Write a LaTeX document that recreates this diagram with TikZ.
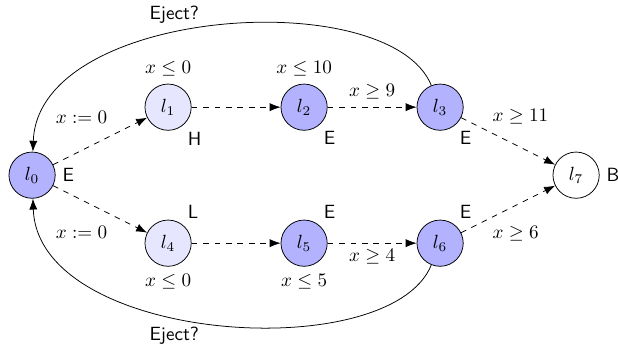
\documentclass[tikz,border=0pt]{standalone}
\usepackage{amsmath,amssymb}
\usetikzlibrary{arrows.meta}
\definecolor{LocUrgent}{RGB}{178,178,255}
\definecolor{LocPale}{RGB}{230,230,255}
\definecolor{LocInk}{gray}{0.0}
\tikzset{
    ta/diagram/.style={
        font=\normalsize,
        draw=LocInk,
        text=LocInk,
        line width=0.4pt,
        >={Latex[length=2mm, width=1.5mm]},
        every label/.style={font=\sffamily, inner sep=1pt}
    },
    ta/loc/.style={circle, draw=LocInk, minimum size=0.85cm, inner sep=0pt},
    ta/urgent/.style={ta/loc, fill=LocUrgent},
    ta/pale/.style={ta/loc, fill=LocPale},
    ta/final/.style={ta/loc, fill=white},
    ta/trans/.style={draw=LocInk, dashed, ->},
    ta/eject/.style={draw=LocInk, ->},
    ta/guard/.style={inner sep=3pt},
    ta/tag/.style={label distance=2.5pt}
}

\begin{document}
\begin{tikzpicture}[ta/diagram]
    \useasboundingbox (-0.59,-3.16) rectangle (10.77,3.22);
    % locations
    \node[ta/urgent, label={[label distance=2.5pt]right:E}] (l0) at (0,0) {$l_0$};
    \node[ta/pale, label={[ta/tag]above:$x\leq 0$}, label={[ta/tag]-52:H}] (l1) at (2.5,1.25) {$l_1$};
    \node[ta/urgent, label={[ta/tag]above:$x\leq 10$}, label={[ta/tag]-52:E}] (l2) at (5,1.25) {$l_2$};
    \node[ta/urgent, label={[ta/tag]-52:E}] (l3) at (7.5,1.25) {$l_3$};
    \node[ta/pale, label={[ta/tag]below:$x\leq 0$}, label={[ta/tag]52:L}] (l4) at (2.5,-1.25) {$l_4$};
    \node[ta/urgent, label={[ta/tag]below:$x\leq 5$}, label={[ta/tag]52:E}] (l5) at (5,-1.25) {$l_5$};
    \node[ta/urgent, label={[ta/tag]52:E}] (l6) at (7.5,-1.25) {$l_6$};
    \node[ta/final, label={[label distance=2.5pt]right:B}] (l7) at (10,0) {$l_7$};

    % upper branch
    \draw[ta/trans] (l0) -- node[ta/guard, pos=0.64, above left, yshift=2.5pt] (g01) {$x:=0$} (l1);
    \draw[ta/trans] (l1) -- (l2);
    \draw[ta/trans] (l2) -- node[ta/guard, above=1pt] (g23) {$x\geq 9$} (l3);
    \draw[ta/trans] (l3) -- node[ta/guard, pos=0.27, above right] (g37) {$x\geq 11$} (l7);
    % lower branch
    \draw[ta/trans] (l0) -- node[ta/guard, pos=0.64, below left, yshift=-2.5pt] (g04) {$x:=0$} (l4);
    \draw[ta/trans] (l4) -- (l5);
    \draw[ta/trans] (l5) -- node[ta/guard, below] (g56) {$x\geq 4$} (l6);
    \draw[ta/trans] (l6) -- node[ta/guard, pos=0.27, below right] (g67) {$x\geq 6$} (l7);

    % ejection back to l0
    \draw[ta/eject] (l3) .. controls +(112:2.45) and +(88:3.1) ..
        node[pos=0.58, above=2pt, font=\sffamily] (ejtop) {Eject?} (l0);
    \draw[ta/eject] (l6) .. controls +(-112:2.45) and +(-88:3.1) ..
        node[pos=0.58, below=2pt, font=\sffamily] (ejbot) {Eject?} (l0);
\end{tikzpicture}
\end{document}
